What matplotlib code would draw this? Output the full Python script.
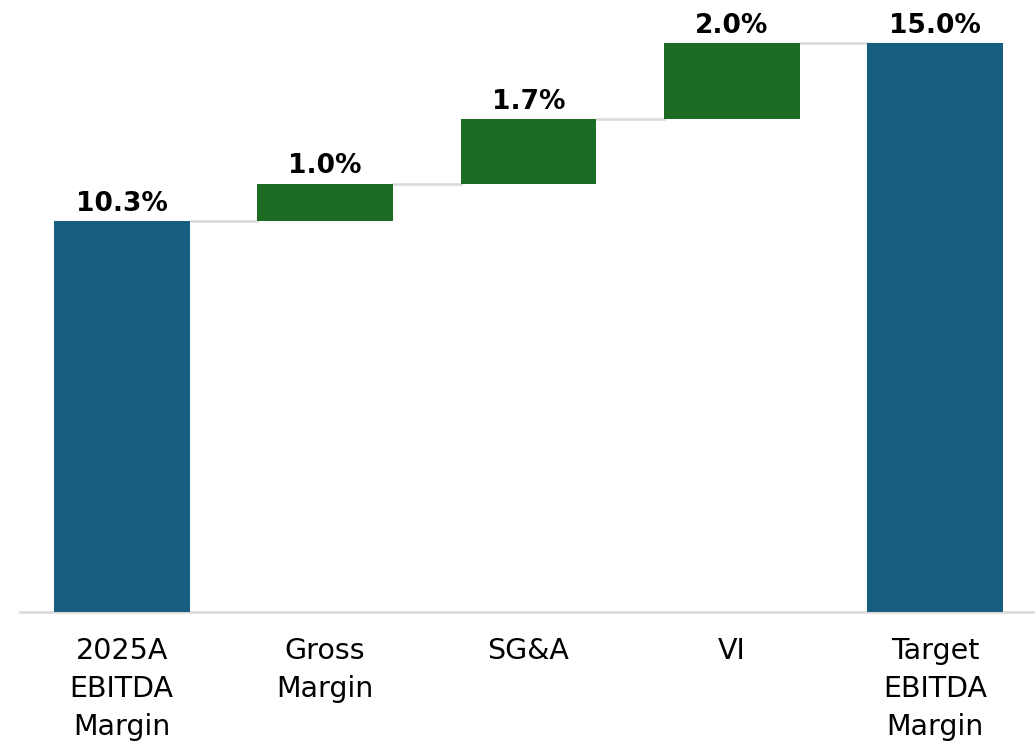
import matplotlib
matplotlib.use('Agg')
from matplotlib import pyplot as plt

categories = ['2025A\nEBITDA\nMargin', 'Gross\nMargin', 'SG&A', 'VI', 'Target\nEBITDA\nMargin']
values = [10.3, 1.0, 1.7, 2.0, 15.0]
is_total = [True, False, False, False, True]

blue = '#175E80'
green = '#1B6B23'
grey = '#D9D9D9'

plt.rcParams['font.family'] = ['DejaVu Sans']

fig = plt.figure(figsize=(10.35, 7.44), dpi=100)
ax = fig.add_axes([20/1035, 132/744, 1015/1035, 612/744])

bottoms = []
tops = []
running = 0
for v, tot in zip(values, is_total):
    if tot:
        bottoms.append(0)
        tops.append(v)
        running = v
    else:
        bottoms.append(running)
        running += v
        tops.append(running)

x = list(range(len(values)))
width = 0.668
heights = [t - b for t, b in zip(tops, bottoms)]
colors = [blue if t else green for t in is_total]
ax.bar(x, heights, bottom=bottoms, width=width, color=colors, zorder=3)

# connector lines between bars
for i in range(len(values) - 1):
    ax.plot([i + width/2, i + 1 - width/2], [tops[i], tops[i]], color=grey, lw=1.8, zorder=2)

for i, v in enumerate(values):
    ax.text(i, tops[i] + 0.12, '%.1f%%' % v, ha='center', va='bottom',
            fontsize=19, fontweight='bold', color='black')

ax.set_xlim(-0.5, 4.49)
ax.set_ylim(0, 16.14)
ax.set_xticks(x)
ax.set_xticklabels(categories, fontsize=20.5, linespacing=1.45)
ax.tick_params(axis='x', length=0, pad=18)
ax.set_yticks([])
for s in ['top', 'right', 'left']:
    ax.spines[s].set_visible(False)
ax.spines['bottom'].set_color(grey)
ax.spines['bottom'].set_linewidth(1.8)

fig.savefig('out.png', dpi=100)
